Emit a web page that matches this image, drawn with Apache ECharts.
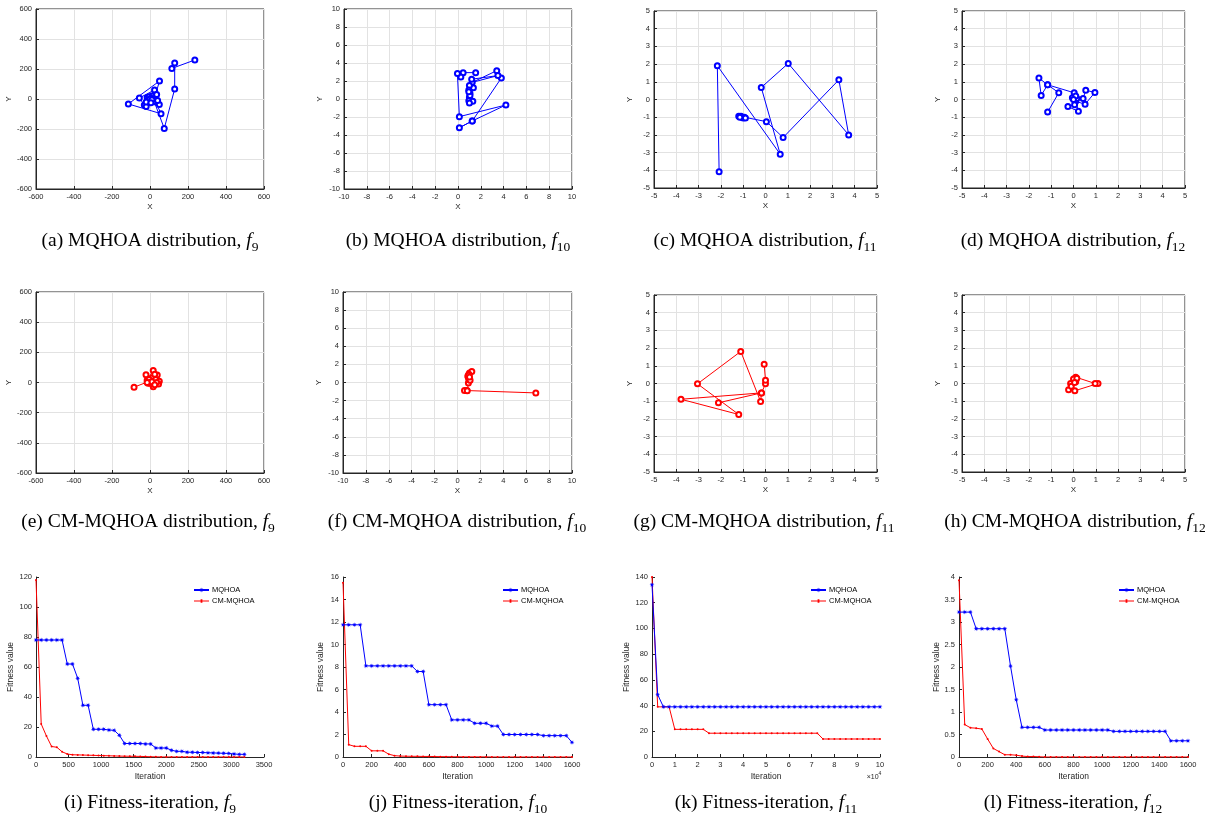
<!DOCTYPE html>
<html>
<head>
<meta charset="utf-8">
<script src="https://cdn.jsdelivr.net/npm/echarts@6/dist/echarts.min.js"></script>
<style>
  html, body { margin: 0; background: #fff; }
  #chart { width: 1227px; height: 823px; }
</style>
</head>
<body>
<div id="chart"></div>
<script>
// particle trajectories, MQHOA (blue)
const aX = [236, 115, 130, 130, 75, 20, 50, -114, 58, 30, 49, 24, -56, -30, -20, 10, 0, -15, 15, -5, 20, 5, -10, 0, 10, 35, 40, -20, 5];
const aY = [260, 204, 240, 67, -196, -10, 120, -33, -98, -20, -36, 60, 7, -40, -50, 20, -10, 10, 0, 15, -15, 5, -5, 0, -5, 30, -10, -20, -25];
const bX = [1.55, 0.45, 0.25, -0.05, 0.12, 4.2, 1.25, 0.12, 1.25, 3.8, 3.4, 1.25, 3.5, 1.2, 1.35, 1.0, 0.95, 1.05, 1.0, 0.95, 1.3, 1.0, 1.05, 0.95];
const bY = [2.93, 2.93, 2.45, 2.82, -1.96, -0.67, -2.44, -3.19, -2.44, 2.33, 3.15, 1.85, 2.6, 2.2, 1.25, 1.5, 1.0, 0.6, 0.2, -0.2, -0.25, -0.45, 0.4, 0.8];
const cX = [-2.08, -2.16, 0.66, -0.19, 1.02, 3.73, 3.29, 0.79, 0.04, -0.95, -1.0, -1.1, -1.2, -1.05, -1.15, -0.9];
const cY = [-4.08, 1.91, -3.09, 0.68, 2.04, -2.0, 1.11, -2.15, -1.25, -1.0, -1.05, -0.95, -0.95, -1.0, -1.0, -1.05];
const dX = [-1.16, -0.66, -1.16, -1.55, -1.45, -1.16, 0.03, 0.0, 0.43, 0.55, 0.96, 0.52, 0.1, 0.22, -0.25, 0.05, -0.05, 0.15, 0.1, 0.0];
const dY = [-0.71, 0.38, 0.83, 1.21, 0.23, 0.83, 0.38, 0.05, 0.06, 0.52, 0.40, -0.27, -0.1, -0.67, -0.40, -0.3, 0.1, 0.05, 0.2, 0.0];

// particle trajectories, CM-MQHOA (red)
const eX = [-84, -10, -21, -15, 17, 10, 38, 20, 49, 45, 17, 0, -10, 25, 5, 30, -5, 15, 35, 0, 10, -15, 25];
const eY = [-31, 5, 51, 15, 80, 30, 49, 10, 9, -10, -29, -5, -5, 55, 10, 20, 20, -10, 0, 0, 5, 0, -15];
const fX = [6.84, 0.82, 0.61, 0.85, 0.95, 1.0, 0.9, 1.05, 1.25, 1.0, 0.95, 1.1, 0.95, 1.05];
const fY = [-1.15, -0.89, -0.89, -0.9, -0.05, 0.3, 0.7, 1.05, 1.22, 0.9, 0.55, 0.25, 0.8, 0.6];
const gX = [-2.11, -0.18, -3.79, -1.2, -3.05, -1.11, -0.22, -0.18, 0.0, 0.0, -0.06];
const gY = [-1.09, -0.53, -0.89, -1.75, -0.02, 1.81, -1.02, -0.53, -0.02, 0.19, 1.09];
const hX = [-0.22, 0.06, 1.1, 0.97, 0.1, 0.05, -0.13, 0.1, 0.0, -0.1, 0.15, 0.05];
const hY = [-0.36, -0.41, 0.0, 0.0, 0.36, 0.2, 0.0, 0.1, 0.25, -0.15, 0.3, 0.05];

// fitness curves
const itersI = [0, 80, 160, 240, 320, 400, 480, 560, 640, 720, 800, 880, 960, 1040, 1120, 1200, 1280, 1360, 1440, 1520, 1600,
  1680, 1760, 1840, 1920, 2000, 2080, 2160, 2240, 2320, 2400, 2480, 2560, 2640, 2720, 2800, 2880, 2960, 3040, 3120, 3200];
const iBlue = [78, 78, 78, 78, 78, 78, 62, 62, 52.5, 34.5, 34.5, 18.5, 18.5, 18.5, 18, 17.8, 14.5, 9, 9, 9, 9,
  8.7, 8.7, 6, 6, 6, 4.5, 3.8, 3.8, 3.2, 3.2, 3.0, 3.0, 2.8, 2.7, 2.6, 2.5, 2.4, 2.0, 1.8, 1.8];
const iRed = [118, 22, 14, 7, 6.5, 3.5, 2.0, 1.5, 1.4, 1.3, 1.2, 1.1, 1.0, 0.9, 0.8, 0.7, 0.6, 0.55, 0.5, 0.45, 0.4,
  0.3, 0.15, 0.1, 0.05, 0.02, 0.02, 0.01, 0.01, 0.01, 0.01, 0, 0, 0, 0, 0, 0, 0, 0, 0, 0];

const itersJ = [0, 40, 80, 120, 160, 200, 240, 280, 320, 360, 400, 440, 480, 520, 560, 600, 640, 680, 720, 760, 800,
  840, 880, 920, 960, 1000, 1040, 1080, 1120, 1160, 1200, 1240, 1280, 1320, 1360, 1400, 1440, 1480, 1520, 1560, 1600];
const jBlue = [11.75, 11.75, 11.75, 11.75, 8.1, 8.1, 8.1, 8.1, 8.1, 8.1, 8.1, 8.1, 8.1, 7.6, 7.6, 4.65, 4.65, 4.65, 4.65, 3.3, 3.3,
  3.3, 3.3, 3.0, 3.0, 3.0, 2.75, 2.75, 2.0, 2.0, 2.0, 2.0, 2.0, 2.0, 2.0, 1.9, 1.9, 1.9, 1.9, 1.9, 1.3];
const jRed = [15.5, 1.1, 0.95, 0.95, 0.95, 0.55, 0.55, 0.55, 0.25, 0.12, 0.08, 0.07, 0.06, 0.06, 0.05, 0.05, 0.04, 0.03, 0.03, 0.02, 0.02,
  0.01, 0.01, 0.01, 0.01, 0.01, 0, 0, 0, 0, 0, 0, 0, 0, 0, 0, 0, 0, 0, 0, 0];

const itersK = [0, 2500, 5000, 7500, 10000, 12500, 15000, 17500, 20000, 22500, 25000, 27500, 30000, 32500, 35000, 37500, 40000,
  42500, 45000, 47500, 50000, 52500, 55000, 57500, 60000, 62500, 65000, 67500, 70000, 72500, 75000, 77500, 80000, 82500,
  85000, 87500, 90000, 92500, 95000, 97500, 100000];
const kBlue = [134, 48.5, 39, 39, 39, 39, 39, 39, 39, 39, 39, 39, 39, 39, 39, 39, 39, 39, 39, 39, 39,
  39, 39, 39, 39, 39, 39, 39, 39, 39, 39, 39, 39, 39, 39, 39, 39, 39, 39, 39, 39];
const kRed = [140, 39, 39, 39, 21.5, 21.5, 21.5, 21.5, 21.5, 21.5, 18.5, 18.5, 18.5, 18.5, 18.5, 18.5, 18.5, 18.5, 18.5, 18.5, 18.5,
  18.5, 18.5, 18.5, 18.5, 18.5, 18.5, 18.5, 18.5, 18.5, 14, 14, 14, 14, 14, 14, 14, 14, 14, 14, 14];

const itersL = itersJ;
const lBlue = [3.22, 3.22, 3.22, 2.85, 2.85, 2.85, 2.85, 2.85, 2.85, 2.02, 1.27, 0.66, 0.66, 0.66, 0.66, 0.6, 0.6, 0.6, 0.6, 0.6, 0.6,
  0.6, 0.6, 0.6, 0.6, 0.6, 0.6, 0.57, 0.57, 0.57, 0.57, 0.57, 0.57, 0.57, 0.57, 0.57, 0.57, 0.36, 0.36, 0.36, 0.36];
const lRed = [3.93, 0.72, 0.65, 0.64, 0.62, 0.4, 0.19, 0.12, 0.05, 0.05, 0.04, 0.02, 0.01, 0.01, 0.005, 0, 0, 0, 0, 0, 0,
  0, 0, 0, 0, 0, 0, 0, 0, 0, 0, 0, 0, 0, 0, 0, 0, 0, 0, 0, 0];

const BLUE = '#0000ff';
const RED = '#ff0000';
const INK = '#262626';
const SANS = 'Liberation Sans, Arial, sans-serif';
const SERIF = 'Liberation Serif, Times New Roman, serif';
const STAR = 'path://M10,5 L6.85,5.77 L8.54,8.54 L5.77,6.85 L5,10 L4.23,6.85 L1.46,8.54 L3.15,5.77 L0,5 L3.15,4.23 L1.46,1.46 L4.23,3.15 L5,0 L5.77,3.15 L8.54,1.46 L6.85,4.23 Z';
const RED_ICON = 'path://M0,4.6 H4.4 V3.8 H5.6 V4.6 H10 V5.4 H5.6 V6.2 H4.4 V5.4 H0 Z';

const zip = (xs, ys) => xs.map((x, i) => [x, ys[i]]);

// box = [left, top, width, height]; axis = [min, max, step]
const panels = [
  { box: [36, 9, 228, 180], x: [-600, 600, 200], y: [-600, 600, 200], traj: [aX, aY], color: BLUE, cap: ['(a) MQHOA distribution, ', '9'], at: [150, 242.5] },
  { box: [344, 9, 228, 180], x: [-10, 10, 2], y: [-10, 10, 2], traj: [bX, bY], color: BLUE, cap: ['(b) MQHOA distribution, ', '10'], at: [458, 242.5] },
  { box: [654, 11, 223, 177], x: [-5, 5, 1], y: [-5, 5, 1], traj: [cX, cY], color: BLUE, cap: ['(c) MQHOA distribution, ', '11'], at: [765, 242.5] },
  { box: [962, 11, 223, 177], x: [-5, 5, 1], y: [-5, 5, 1], traj: [dX, dY], color: BLUE, cap: ['(d) MQHOA distribution, ', '12'], at: [1073, 242.5] },
  { box: [36, 292, 228, 181], x: [-600, 600, 200], y: [-600, 600, 200], traj: [eX, eY], color: RED, cap: ['(e) CM-MQHOA distribution, ', '9'], at: [148, 523.5] },
  { box: [343, 292, 229, 181], x: [-10, 10, 2], y: [-10, 10, 2], traj: [fX, fY], color: RED, cap: ['(f) CM-MQHOA distribution, ', '10'], at: [457, 523.5] },
  { box: [654, 295, 223, 177], x: [-5, 5, 1], y: [-5, 5, 1], traj: [gX, gY], color: RED, cap: ['(g) CM-MQHOA distribution, ', '11'], at: [764, 523.5] },
  { box: [962, 295, 223, 177], x: [-5, 5, 1], y: [-5, 5, 1], traj: [hX, hY], color: RED, cap: ['(h) CM-MQHOA distribution, ', '12'], at: [1075, 523.5] },
  { box: [36, 577, 228, 180], x: [0, 3500, 500], y: [0, 120, 20], fit: [itersI, iBlue, iRed], legend: [193, 586], cap: ['(i) Fitness-iteration, ', '9'], at: [150, 804.5] },
  { box: [343, 577, 229, 180], x: [0, 1600, 200], y: [0, 16, 2], fit: [itersJ, jBlue, jRed], legend: [502, 586], cap: ['(j) Fitness-iteration, ', '10'], at: [458, 804.5] },
  { box: [652, 577, 228, 180], x: [0, 100000, 10000], y: [0, 140, 20], fit: [itersK, kBlue, kRed], legend: [810, 586], cap: ['(k) Fitness-iteration, ', '11'], at: [766, 804.5], sci: true },
  { box: [959, 577, 229, 180], x: [0, 1600, 200], y: [0, 4, 0.5], fit: [itersL, lBlue, lRed], legend: [1118, 586], cap: ['(l) Fitness-iteration, ', '12'], at: [1073, 804.5] }
];

const plain = (v) => String(v);

const makeAxis = (idx, range, name, isY, boxed, formatter) => ({
  gridIndex: idx,
  type: 'value',
  min: range[0],
  max: range[1],
  interval: range[2],
  name,
  nameLocation: 'middle',
  nameGap: isY ? (boxed ? 20 : 18) : (boxed ? 14 : 15),
  nameTextStyle: { fontFamily: SANS, fontSize: boxed ? 8 : 8.5, color: INK },
  axisLine: { show: true, onZero: false, lineStyle: { color: INK, width: 1 } },
  axisTick: { show: true, inside: true, length: 3, lineStyle: { color: INK, width: 1 } },
  axisLabel: { fontFamily: SANS, fontSize: 7.5, color: INK, margin: 4, formatter: formatter || plain },
  splitLine: { show: boxed, lineStyle: { color: '#e2e2e2', width: 1 } }
});

const grids = [];
const xAxes = [];
const yAxes = [];
const series = [];
const legends = [];
const graphics = [];

const capRich = {
  n: { fontFamily: SERIF, fontSize: 19.5, lineHeight: 20, verticalAlign: 'top', fill: '#000' },
  f: { fontFamily: SERIF, fontStyle: 'italic', fontSize: 19.5, lineHeight: 20, verticalAlign: 'top', fill: '#000' },
  s: { fontFamily: SERIF, fontSize: 13.5, lineHeight: 24, verticalAlign: 'bottom', fill: '#000' }
};

panels.forEach((p, i) => {
  const boxed = !p.fit;
  grids.push({
    left: p.box[0], top: p.box[1], width: p.box[2], height: p.box[3],
    show: boxed, borderColor: INK, borderWidth: 1, backgroundColor: 'transparent'
  });
  xAxes.push(makeAxis(i, p.x, boxed ? 'X' : 'Iteration', false, boxed, p.sci ? (v) => String(v / 10000) : undefined));
  yAxes.push(makeAxis(i, p.y, boxed ? 'Y' : 'Fitness value', true, boxed));

  if (boxed) {
    series.push({
      name: 'traj' + i,
      type: 'line',
      xAxisIndex: i, yAxisIndex: i,
      data: zip(p.traj[0], p.traj[1]),
      symbol: 'emptyCircle', symbolSize: 5,
      lineStyle: { color: p.color, width: 1 },
      itemStyle: { color: p.color, borderColor: p.color, borderWidth: 1 }
    });
  } else {
    const [iters, blue, red] = p.fit;
    series.push({
      name: 'CM-MQHOA',
      type: 'line',
      xAxisIndex: i, yAxisIndex: i,
      data: zip(iters, red),
      symbol: 'circle', symbolSize: 2,
      lineStyle: { color: RED, width: 1 },
      itemStyle: { color: RED },
      z: 2
    });
    series.push({
      name: 'MQHOA',
      type: 'line',
      xAxisIndex: i, yAxisIndex: i,
      data: zip(iters, blue),
      symbol: STAR, symbolSize: 5,
      lineStyle: { color: BLUE, width: 1 },
      itemStyle: { color: BLUE },
      z: 3
    });
    legends.push({
      left: p.legend[0], top: p.legend[1],
      orient: 'vertical', padding: 0,
      itemWidth: 15, itemHeight: 6, itemGap: 3,
      selectedMode: false,
      textStyle: { fontFamily: SANS, fontSize: 7.5, color: '#000', padding: [0, 0, 0, -2] },
      data: ['MQHOA', { name: 'CM-MQHOA', icon: RED_ICON }]
    });
  }

  graphics.push({
    type: 'text',
    x: p.at[0], y: p.at[1],
    style: {
      text: '{n|' + p.cap[0] + '}{f|f}{s|' + p.cap[1] + '}',
      rich: capRich,
      align: 'center', verticalAlign: 'middle',
      textAlign: 'center', textVerticalAlign: 'middle'
    }
  });

  if (p.sci) {
    graphics.push({
      type: 'text',
      x: p.box[0] + p.box[2] - 6, y: p.box[1] + p.box[3] + 19,
      style: {
        text: '{a|\u00d710}{b|4}',
        rich: {
          a: { fontFamily: SANS, fontSize: 7, lineHeight: 10, verticalAlign: 'bottom', fill: INK },
          b: { fontFamily: SANS, fontSize: 5, lineHeight: 10, verticalAlign: 'top', fill: INK }
        },
        align: 'center', verticalAlign: 'middle',
        textAlign: 'center', textVerticalAlign: 'middle'
      }
    });
  }
});

const chart = echarts.init(document.getElementById('chart'), null, { renderer: 'canvas' });
chart.setOption({
  backgroundColor: '#fff',
  animation: false,
  grid: grids,
  xAxis: xAxes,
  yAxis: yAxes,
  legend: legends,
  series,
  graphic: graphics
});
</script>
</body>
</html>
